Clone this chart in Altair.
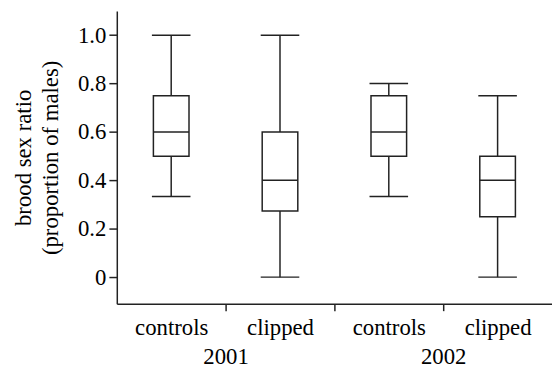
import json
import altair as alt
import pandas as pd

# ---- data ----
groups = ["controls", "clipped", "controls", "clipped"]
years = ["2001", "2001", "2002", "2002"]
mins = [0.333, 0.0, 0.333, 0.0]
q1s = [0.5, 0.273, 0.5, 0.25]
medians = [0.6, 0.4, 0.6, 0.4]
q3s = [0.75, 0.6, 0.75, 0.5]
maxs = [1.0, 1.0, 0.8, 0.75]

y_ticks = [0.0, 0.1, 0.2, 0.3, 0.4, 0.5, 0.6, 0.7, 0.8, 0.9, 1.0]

df = pd.DataFrame({
    "group": groups,
    "year": years,
    "pos": [i + 0.5 for i in range(len(groups))],
    "min": mins,
    "q1": q1s,
    "median": medians,
    "q3": q3s,
    "max": maxs,
})

unique_years = list(dict.fromkeys(years))
year_pos = {}
for y in unique_years:
    idx = [i for i, v in enumerate(years) if v == y]
    year_pos[y] = (idx[0] + idx[-1] + 1) / 2.0
year_expr = " : ".join(
    [f"datum.value == {p} ? '{y}'" for y, p in year_pos.items()] + ["''"]
)
group_expr = f"{json.dumps(groups)}[floor(datum.value)]"

FONT = "Liberation Serif"
FS = 23
INK = "#222222"
LW = 1.5

common = dict(
    labelFont=FONT,
    labelFontSize=FS,
    labelFontWeight="normal",
    labelColor="black",
    titleFont=FONT,
    titleFontSize=FS,
    titleFontWeight="normal",
    titleColor="black",
    domainColor=INK,
    domainWidth=LW,
    tickColor=INK,
    tickWidth=LW,
    labelOverlap=False,
    grid=False,
)

xscale = alt.Scale(domain=[0, len(groups)], nice=False, zero=False, padding=0)
yscale = alt.Scale(domain=[-0.11, 1.1], nice=False, zero=False, padding=0)

yaxis = alt.Axis(
    title=["brood sex ratio", "(proportion of males)"],
    values=y_ticks,
    labelExpr="datum.value == 0 ? '0' : (round(datum.value * 10) % 2 == 0 ? format(datum.value, '.1f') : '')",
    tickSize=8,
    labelPadding=3,
    titlePadding=15,
    titleLineHeight=28,
    **common,
)

year_axis = alt.Axis(
    orient="bottom",
    title=None,
    values=[1, 2, 3],
    labelExpr=year_expr,
    tickSize=7,
    labelPadding=35,
    **common,
)
group_axis = alt.Axis(
    orient="bottom",
    title=None,
    values=[i + 0.5 for i in range(len(groups))],
    labelExpr=group_expr,
    ticks=False,
    tickSize=0,
    domain=False,
    labelPadding=13,
    **common,
)

base = alt.Chart(df)
X_plain = alt.X("pos:Q", scale=xscale, axis=None)

whisker = base.mark_rule(color=INK, strokeWidth=LW).encode(
    x=alt.X("pos:Q", scale=xscale, axis=year_axis),
    y=alt.Y("min:Q", scale=yscale, axis=yaxis),
    y2="max:Q",
)
box = base.mark_bar(fill="white", stroke=INK, strokeWidth=LW, size=36, opacity=1).encode(
    x=X_plain,
    y=alt.Y("q1:Q", scale=yscale),
    y2="q3:Q",
)
median = base.mark_tick(orient="horizontal", color=INK, thickness=LW, size=36, opacity=1).encode(
    x=alt.X("pos:Q", scale=xscale, axis=group_axis),
    y=alt.Y("median:Q", scale=yscale),
)
cap_lo = base.mark_tick(orient="horizontal", color=INK, thickness=LW, size=39, opacity=1).encode(
    x=X_plain,
    y=alt.Y("min:Q", scale=yscale),
)
cap_hi = base.mark_tick(orient="horizontal", color=INK, thickness=LW, size=39, opacity=1).encode(
    x=X_plain,
    y=alt.Y("max:Q", scale=yscale),
)

chart = (
    alt.layer(whisker, box, cap_lo, cap_hi, median)
    .resolve_axis(x="independent")
    .properties(
        width=440,
        height=296,
        autosize=alt.AutoSizeParams(type="none"),
        padding={"left": 110, "top": 1, "right": 0, "bottom": 67},
        background="white",
    )
    .configure_view(stroke=None)
)

chart.save("out.html", embed_options={"renderer": "svg", "actions": False})
